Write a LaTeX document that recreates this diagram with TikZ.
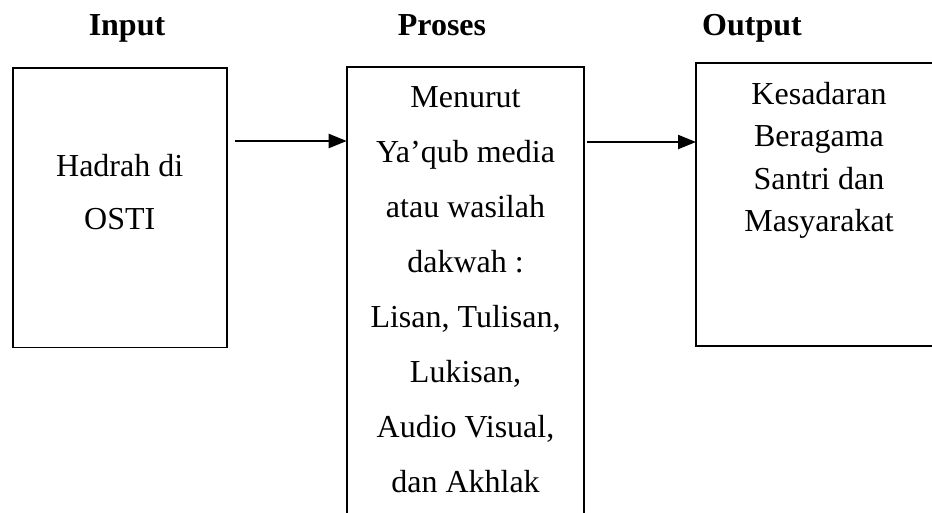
\documentclass[tikz,border=0pt]{standalone}
\usepackage{fontspec}
\setmainfont{Liberation Serif}
\usetikzlibrary{arrows.meta}
\begin{document}
\begin{tikzpicture}[x=0.75pt,y=-0.75pt,
  box/.style={draw=black,line width=1.3pt,rectangle,inner sep=0pt,outer sep=0pt,anchor=north west},
  txt/.style={font=\fontsize{24}{28}\selectfont,anchor=base,inner sep=0pt},
  ttl/.style={font=\bfseries\fontsize{24}{28}\selectfont,anchor=base,inner sep=0pt},
  flow/.style={line width=1.6pt,-{Triangle[length=13.5pt,width=10.5pt]}}]
\useasboundingbox (0,0) rectangle (932,512);
\clip (0,0) rectangle (932,512);
% titles
\node[ttl] (tin) at (127,35) {Input};
\node[ttl] (tpr) at (442,35) {Proses};
\node[ttl] (tout) at (752,35) {Output};
% boxes
\node[box,minimum width=160.5pt,minimum height=209.6pt] (inp) at (12.7,68) {};
\node[box,minimum width=178.2pt,minimum height=347.5pt] (proc) at (346.7,66.7) {};
\node[box,minimum width=184.5pt,minimum height=211.8pt] (outp) at (696,63.3) {};
% input text
\node[txt] (in1) at (119.7,176) {Hadrah di};
\node[txt] (in2) at (119.7,229) {OSTI};
% process text
\foreach \t [count=\k from 0] in {Menurut,Ya’qub media,atau wasilah,dakwah :,{Lisan, Tulisan,},{Lukisan,},{Audio Visual,},dan Akhlak}
  \node[txt] (p\k) at (465.5,107+\k*55.1) {\t};
% output text
\foreach \t [count=\k from 0] in {Kesadaran,Beragama,Santri dan,Masyarakat}
  \node[txt] (o\k) at (819,104+\k*42.5) {\t};
% arrows
\coordinate (s1) at (235,141);
\coordinate (s2) at (587.3,142);
\draw[flow] (s1) -- (s1 -| proc.west);
\draw[flow] (s2) -- (s2 -| outp.west);
\end{tikzpicture}
\end{document}
